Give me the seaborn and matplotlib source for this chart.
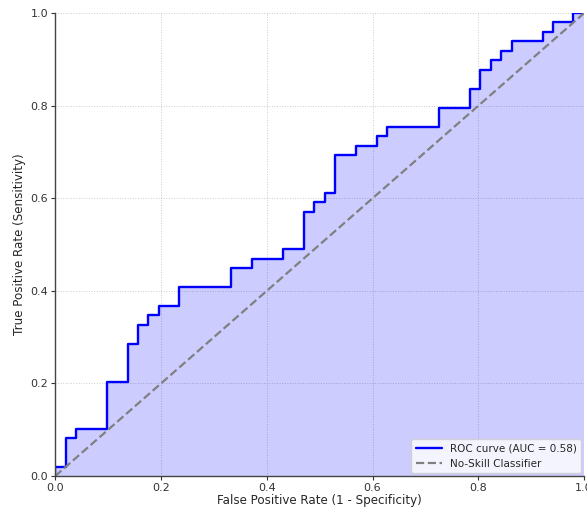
import matplotlib
matplotlib.use("Agg")
import matplotlib.pyplot as plt
import seaborn as sns
import pandas as pd
import numpy as np

# ROC curve corner points
fpr = [0.0, 0.0, 0.020, 0.020, 0.039, 0.039, 0.098, 0.098, 0.137, 0.137,
       0.157, 0.157, 0.176, 0.176, 0.196, 0.196, 0.235, 0.235, 0.333, 0.333,
       0.373, 0.373, 0.431, 0.431, 0.471, 0.471, 0.490, 0.490, 0.510, 0.510,
       0.529, 0.529, 0.569, 0.569, 0.608, 0.608, 0.627, 0.627, 0.725, 0.725,
       0.784, 0.784, 0.804, 0.804, 0.824, 0.824, 0.843, 0.843, 0.863, 0.863,
       0.922, 0.922, 0.941, 0.941, 0.980, 0.980, 1.0]
tpr = [0.0, 0.020, 0.020, 0.082, 0.082, 0.102, 0.102, 0.204, 0.204, 0.286,
       0.286, 0.327, 0.327, 0.347, 0.347, 0.367, 0.367, 0.408, 0.408, 0.449,
       0.449, 0.469, 0.469, 0.490, 0.490, 0.571, 0.571, 0.592, 0.592, 0.612,
       0.612, 0.694, 0.694, 0.714, 0.714, 0.735, 0.735, 0.755, 0.755, 0.796,
       0.796, 0.837, 0.837, 0.878, 0.878, 0.898, 0.898, 0.918, 0.918, 0.939,
       0.939, 0.959, 0.959, 0.980, 0.980, 1.0, 1.0]
auc_label = "ROC curve (AUC = 0.58)"
baseline_x = [0.0, 1.0]
baseline_y = [0.0, 1.0]

sns.set_style("ticks")
plt.rcParams['font.family'] = ['DejaVu Sans']

df = pd.DataFrame({"fpr": fpr, "tpr": tpr})

fig = plt.figure(figsize=(5.87, 5.07), dpi=100)
ax = fig.add_axes([0.094, 0.061, 0.901, 0.913])

ax.fill_between(df["fpr"], df["tpr"], 0, color="blue", alpha=0.2, linewidth=0)
sns.lineplot(data=df, x="fpr", y="tpr", sort=False, estimator=None,
             color="blue", lw=1.7, ax=ax, label=auc_label)
sns.lineplot(x=baseline_x, y=baseline_y, color="gray", lw=1.6,
             linestyle="--", ax=ax, label="No-Skill Classifier")

ax.set_xlim(0, 1)
ax.set_ylim(0, 1)
ax.set_xticks([0, 0.2, 0.4, 0.6, 0.8, 1.0])
ax.set_yticks([0, 0.2, 0.4, 0.6, 0.8, 1.0])
ax.tick_params(labelsize=8, length=3, width=0.8, colors="#333333", pad=2)
ax.grid(True, linestyle=":", color="#cccccc", linewidth=0.7)
ax.set_xlabel("False Positive Rate (1 - Specificity)", fontsize=8.6, labelpad=1)
ax.set_ylabel("True Positive Rate (Sensitivity)", fontsize=8.6, labelpad=3)
for s in ["top", "right"]:
    ax.spines[s].set_visible(False)
for s in ["left", "bottom"]:
    ax.spines[s].set_color("#444444")
    ax.spines[s].set_linewidth(1.0)
ax.legend(loc="lower right", fontsize=7.5, frameon=True, framealpha=0.8,
          borderpad=0.4, handlelength=2.5, borderaxespad=0.3)

fig.savefig("out.png", dpi=100)
